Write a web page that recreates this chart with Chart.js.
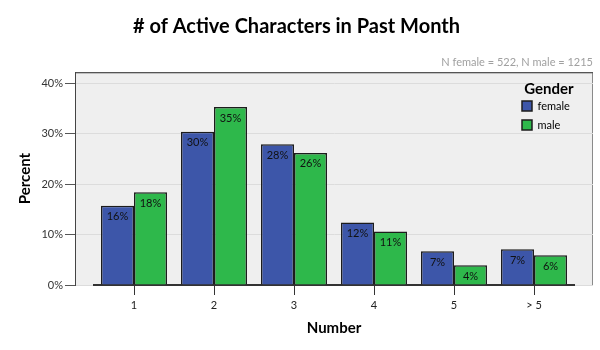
<!DOCTYPE html>
<html>
<head>
<meta charset="utf-8">
<script src="https://cdn.jsdelivr.net/npm/chart.js@4/dist/chart.umd.min.js"></script>
<style>
    html, body { margin: 0; padding: 0; background: #fff; }
    #area-grafico { width: 600px; height: 350px; }
</style>
</head>
<body>
<div id="area-grafico"><canvas id="grafico"></canvas></div>
<script>
const categorias = ['1', '2', '3', '4', '5', '> 5'];
const valores_female = [15.7, 30.4, 27.9, 12.4, 6.7, 7.1];
const valores_male = [18.4, 35.3, 26.2, 10.6, 3.9, 5.9];
const ticks_y = [0, 10, 20, 30, 40];

const fonte = 'Lato, "Liberation Sans", sans-serif';

// caixa cinza da area de plotagem (um pouco mais larga que o eixo x)
const fundo_plot = {
    id: 'fundo_plot',
    beforeDraw(chart) {
        const { ctx, chartArea: a } = chart;
        ctx.save();
        ctx.fillStyle = '#efefef';
        ctx.fillRect(a.left, a.top, a.right - a.left, a.bottom - a.top);
        ctx.strokeStyle = '#8a8a8a';
        ctx.lineWidth = 1;
        ctx.strokeRect(a.left + 0.5, a.top + 0.5, a.right - a.left - 1, a.bottom - a.top);
        ctx.strokeStyle = '#444';
        ctx.beginPath();
        ctx.moveTo(a.left, a.top + 0.5);
        ctx.lineTo(a.right, a.top + 0.5);
        ctx.stroke();
        ctx.restore();
    },
    afterLayout(chart) {
        // eixo x fica recuado dentro da caixa
        const x = chart.scales.x;
        x.left = chart.chartArea.left + 19;
        x.right = chart.chartArea.right - 19;
        x.width = x.right - x.left;
        x.configure();

        // legenda dentro da caixa, canto superior direito
        const leg = chart.legend;
        if (leg) {
            const w = 70, h = 200;
            leg.left = 514;
            leg.top = 79.5;
            leg.right = leg.left + w;
            leg.bottom = leg.top + h;
            leg.width = w;
            leg.height = h;
        }
    }
};

const rotulos_barras = {
    id: 'rotulos_barras',
    afterDatasetsDraw(chart) {
        const { ctx } = chart;
        ctx.save();
        ctx.font = '11px ' + fonte;
        ctx.fillStyle = '#111';
        ctx.textAlign = 'center';
        ctx.textBaseline = 'middle';
        chart.data.datasets.forEach((ds, i) => {
            chart.getDatasetMeta(i).data.forEach((bar, j) => {
                ctx.fillText(Math.round(ds.data[j]) + '%', bar.x, bar.y + 11);
            });
        });
        ctx.restore();
    }
};

const grafico = document.getElementById('grafico');

new Chart(grafico, {
    type: 'bar',
    data: {
        labels: categorias,
        datasets: [
            {
                label: 'female',
                data: valores_female,
                backgroundColor: '#3d56a9',
                borderColor: '#1c1c1c',
                borderWidth: 1.5
            },
            {
                label: 'male',
                data: valores_male,
                backgroundColor: '#2eb84b',
                borderColor: '#1c1c1c',
                borderWidth: 1.5
            }
        ]
    },
    options: {
        responsive: true,
        maintainAspectRatio: false,
        animation: false,
        categoryPercentage: 0.825,
        barPercentage: 1.0,
        layout: { padding: { left: 0, right: 7, top: 0, bottom: 0 } },
        plugins: {
            title: {
                display: true,
                text: '# of Active Characters in Past Month',
                font: { family: fonte, size: 20, weight: 'bold' },
                color: '#000',
                padding: { top: 15, bottom: 0 }
            },
            subtitle: {
                display: true,
                text: 'N female = 522, N male = 1215',
                align: 'end',
                font: { family: fonte, size: 11 },
                color: '#a0a0a0',
                padding: { top: 17, bottom: 3 }
            },
            legend: {
                position: 'chartArea',
                align: 'start',
                title: {
                    display: true,
                    text: 'Gender',
                    color: '#000',
                    font: { family: fonte, size: 15, weight: 'bold' },
                    padding: { top: 2, bottom: -7 }
                },
                labels: {
                    boxWidth: 10,
                    boxHeight: 10,
                    padding: 8,
                    color: '#000',
                    font: { family: fonte, size: 11 }
                }
            },
            tooltip: { enabled: false }
        },
        scales: {
            x: {
                offset: true,
                afterFit: s => { s.height = 65; },
                grid: {
                    display: true,
                    offset: false,
                    drawOnChartArea: false,
                    tickLength: 10,
                    tickColor: '#333'
                },
                border: { display: true, color: '#333', width: 2 },
                ticks: {
                    padding: 4,
                    color: '#222',
                    font: { family: fonte, size: 11 }
                },
                title: {
                    display: true,
                    text: 'Number',
                    color: '#000',
                    font: { family: fonte, size: 15, weight: 'bold' },
                    padding: { top: 0, bottom: 13 }
                }
            },
            y: {
                min: 0,
                max: 42.2,
                afterFit: s => { s.width = 75; },
                afterBuildTicks: s => {
                    s.ticks = ticks_y.map(v => ({ value: v }));
                },
                grid: {
                    color: '#dcdcdc',
                    tickColor: '#555',
                    tickLength: 10
                },
                border: { display: true, color: '#444', width: 1 },
                ticks: {
                    padding: 2,
                    color: '#333',
                    font: { family: fonte, size: 11 },
                    callback: v => v + '%'
                },
                title: {
                    display: true,
                    text: 'Percent',
                    color: '#000',
                    font: { family: fonte, size: 15, weight: 'bold' },
                    padding: { top: 16, bottom: 0 }
                }
            }
        }
    },
    plugins: [fundo_plot, rotulos_barras]
});
</script>
</body>
</html>
